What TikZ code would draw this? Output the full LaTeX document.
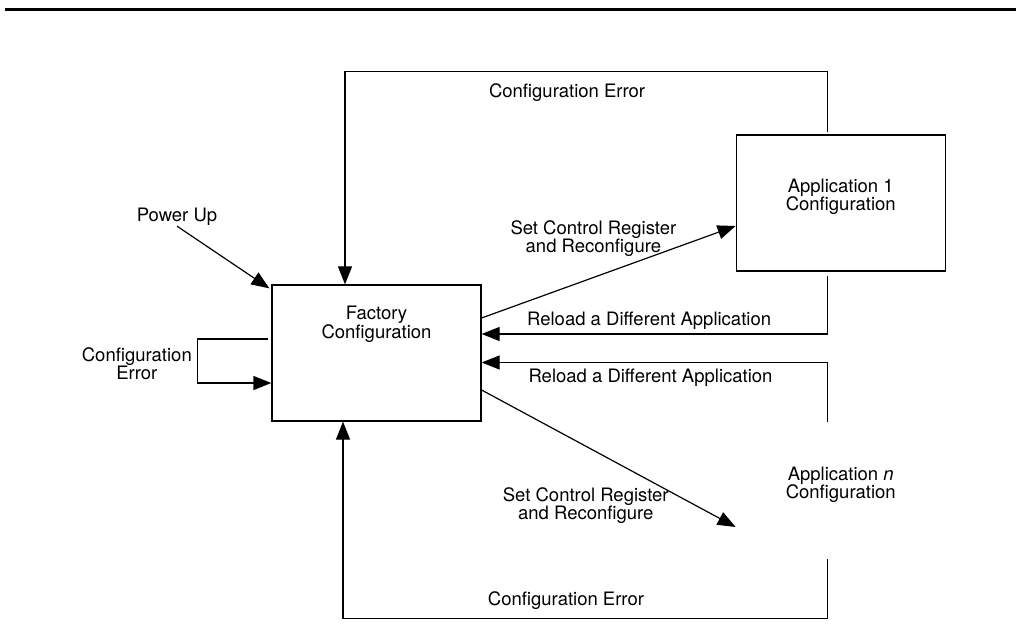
\documentclass[tikz,border=0pt]{standalone}
\usepackage{fontspec}
\setmainfont{TeX Gyre Heros}
\usetikzlibrary{positioning,arrows.meta}

\begin{document}
\begin{tikzpicture}[
  x=1pt, y=1pt,
  font=\fontsize{9.25}{9.25}\selectfont,
  node distance = 0pt and 127pt,
  cfg/.style   = {rectangle, draw, line width=0.6pt, minimum width=104.5pt,
                  minimum height=68pt, inner sep=0pt, align=center},
  cfgF/.style  = {cfg, text height=26.5pt, text depth=41.5pt},
  cfgA/.style  = {cfg, text height=38pt, text depth=30pt},
  cfgN/.style  = {cfgA, draw=none},
  lbl/.style   = {inner sep=0pt, align=center},
  arrow/.style = {-{Triangle[length=9pt, width=7pt]}, line width=0.6pt}
]
\useasboundingbox (0,0) rectangle (508,-315);
\draw[line width=1.5pt] (2.5,-5) -- (508,-5);

\node[cfgF] (factory) at (188.25,-176.5) {Factory\\Configuration};
\node[cfgA, right=of factory, yshift=75pt]     (app1) {Application 1\\Configuration};
\node[cfgN, right=of factory, yshift=-68.75pt] (appn) {Application \textit{n}\\Configuration};
\node[lbl] (power) at (88.5,-108.5) {Power Up};

% power up and self loop
\draw[arrow] (power.south) -- ([shift={(-1pt,-2pt)}]factory.north west);
\draw[arrow, shorten <=1.5pt] ([yshift=7pt]factory.west) -- ++(-37pt,0)
  |- node[lbl, pos=0.28, left=2.5pt] (selferr) {Configuration\\Error} ([yshift=-15pt]factory.west);

% set control register
\draw[arrow] ([yshift=17.5pt]factory.east)
  -- node[lbl, pos=0.44, yshift=19.5pt] (setup) {Set Control Register\\and Reconfigure} ([yshift=-11.5pt]app1.west);
\draw[arrow] ([yshift=-18.5pt]factory.east)
  -- node[lbl, pos=0.41, yshift=-29.75pt] (setdown) {Set Control Register\\and Reconfigure} ([yshift=-18.25pt]appn.west);

% reload
\draw[arrow, shorten <=2pt] ([xshift=-6.5pt]app1.south)
  |- node[lbl, pos=0.758, yshift=6.75pt] (reloadup) {Reload a Different Application} ([yshift=9.5pt]factory.east);
\draw[arrow] ([xshift=-6.5pt]appn.north)
  |- node[lbl, pos=0.756, yshift=-7.5pt] (reloaddown) {Reload a Different Application} ([yshift=-4.75pt]factory.east);

% configuration error
\draw[arrow, shorten <=1pt] ([xshift=-6.5pt]app1.north) -- ++(0,31.5pt)
  -| node[lbl, pos=0.27, yshift=-10.5pt] (errtop) {Configuration Error} ([xshift=-15.75pt]factory.north);
\draw[arrow] ([xshift=-6.5pt]appn.south) -- ++(0,-29.5pt)
  -| node[lbl, pos=0.27, yshift=8.5pt] (errbot) {Configuration Error} ([xshift=-16.75pt]factory.south);
\end{tikzpicture}
\end{document}
